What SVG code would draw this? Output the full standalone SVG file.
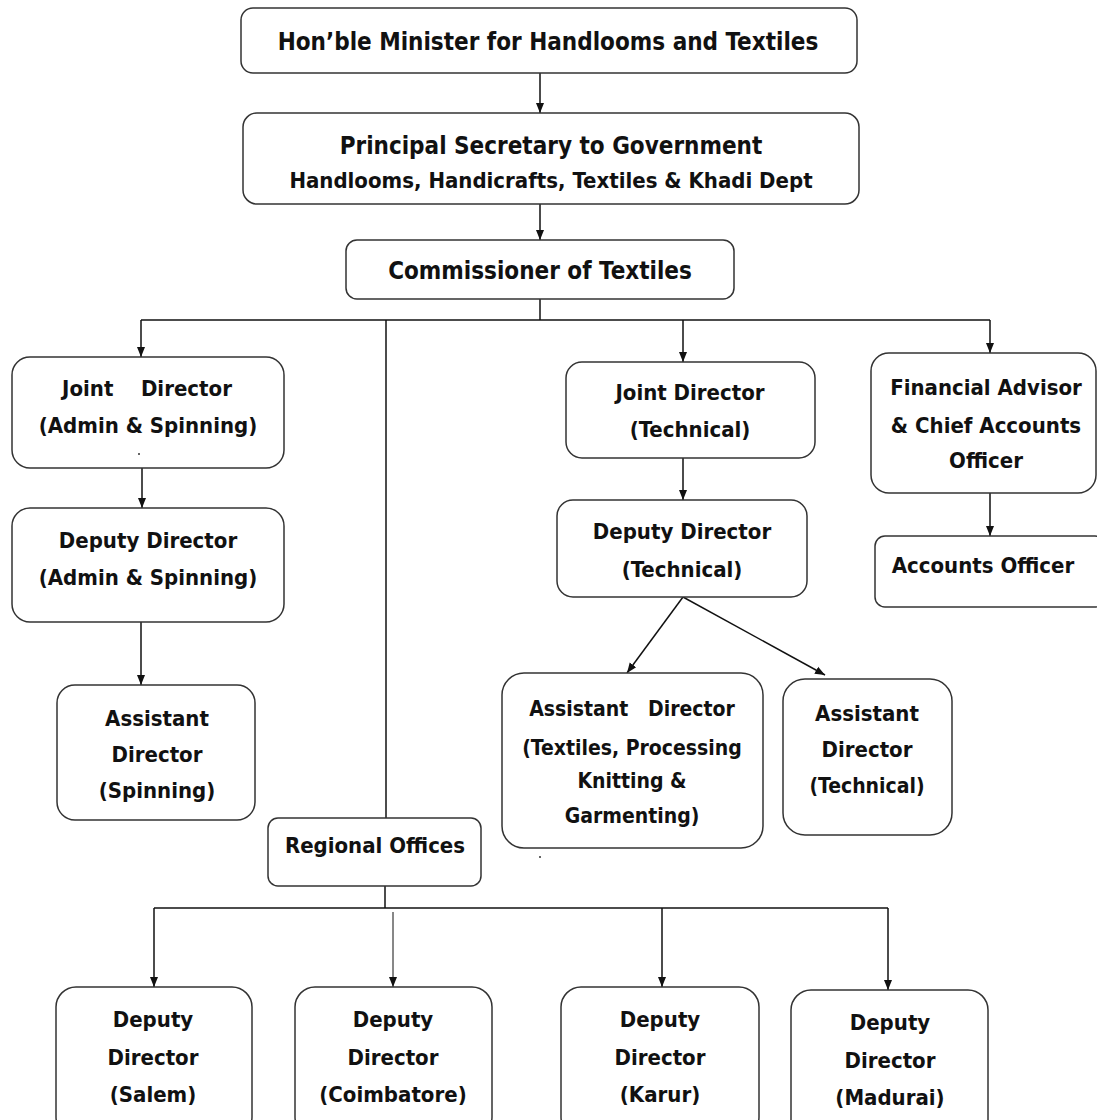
<svg xmlns="http://www.w3.org/2000/svg" width="1097" height="1120" viewBox="0 0 1097 1120">
<defs>
<marker id="arr" markerUnits="userSpaceOnUse" markerWidth="10" markerHeight="10" viewBox="0 0 10 10" refX="10" refY="5" orient="auto">
<path d="M0,1 L10,5 L0,9 Z" fill="#111"/>
</marker>
<style>
.box{fill:#fff;stroke:#333;stroke-width:1.5}
.sh{fill:#aaa;stroke:none}
.t{font-family:"DejaVu Sans Condensed","DejaVu Sans",sans-serif;font-weight:bold;fill:#111;text-anchor:middle;font-size:22px}
.big{font-size:24px}
.med{font-size:21px}
.c{stroke:#111;stroke-width:1.5;fill:none}
.ca{stroke:#111;stroke-width:1.5;fill:none;marker-end:url(#arr)}
</style>
</defs>
<rect width="1097" height="1120" fill="#fff"/>

<g id="connectors">
<line class="ca" x1="540" y1="73" x2="540" y2="113"/>
<line class="ca" x1="540" y1="204" x2="540" y2="240"/>
<line class="c" x1="540" y1="299" x2="540" y2="320"/>
<line class="c" x1="141" y1="320" x2="990" y2="320"/>
<line class="ca" x1="141" y1="320" x2="141" y2="357"/>
<line class="c" x1="386" y1="320" x2="386" y2="818"/>
<line class="ca" x1="683" y1="320" x2="683" y2="362"/>
<line class="ca" x1="990" y1="320" x2="990" y2="353"/>
<line class="ca" x1="142" y1="468" x2="142" y2="508"/>
<line class="ca" x1="141" y1="608" x2="141" y2="685"/>
<line class="ca" x1="683" y1="458" x2="683" y2="500"/>
<line class="ca" x1="683" y1="597" x2="627" y2="673"/>
<line class="ca" x1="683" y1="597" x2="825" y2="675"/>
<line class="ca" x1="990" y1="493" x2="990" y2="536"/>
<line class="c" x1="385" y1="886" x2="385" y2="908"/>
<line class="c" x1="154" y1="908" x2="888" y2="908"/>
<line class="ca" x1="154" y1="908" x2="154" y2="987"/>
<line class="ca" x1="393" y1="912" x2="393" y2="987" style="stroke-width:1"/>
<line class="ca" x1="662" y1="908" x2="662" y2="987"/>
<line class="ca" x1="888" y1="908" x2="888" y2="990"/>
</g>

<g id="minister">
<rect class="box" x="241" y="8" width="616" height="65" rx="12"/>
<text class="t big" x="548" y="50">Hon’ble Minister for Handlooms and Textiles</text>
</g>

<g id="secretary">
<rect class="box" x="243" y="113" width="616" height="91" rx="14"/>
<text class="t big" x="551" y="154">Principal Secretary to Government</text>
<text class="t" x="551" y="188">Handlooms, Handicrafts, Textiles &amp; Khadi Dept</text>
</g>

<g id="commissioner">
<rect class="box" x="346" y="240" width="388" height="59" rx="11"/>
<text class="t big" x="540" y="279">Commissioner of Textiles</text>
</g>

<g id="jd-admin">
<rect class="box" x="12" y="357" width="272" height="111" rx="18"/>
<text class="t" x="147" y="396">Joint&#160;&#160;&#160;&#160;Director</text>
<text class="t" x="148" y="433">(Admin &amp; Spinning)</text>
<circle cx="139" cy="454" r="1" fill="#333"/>
</g>

<g id="dd-admin">
<rect class="box" x="12" y="508" width="272" height="114" rx="18"/>
<text class="t" x="148" y="548">Deputy Director</text>
<text class="t" x="148" y="585">(Admin &amp; Spinning)</text>
</g>

<g id="ad-spinning">
<rect class="box" x="57" y="685" width="198" height="135" rx="18"/>
<text class="t" x="157" y="726">Assistant</text>
<text class="t" x="157" y="762">Director</text>
<text class="t" x="157" y="798">(Spinning)</text>
</g>

<g id="jd-tech">
<rect class="box" x="566" y="362" width="249" height="96" rx="16"/>
<text class="t" x="690" y="400">Joint Director</text>
<text class="t" x="690" y="437">(Technical)</text>
</g>

<g id="dd-tech">
<rect class="box" x="557" y="500" width="250" height="97" rx="16"/>
<text class="t" x="682" y="539">Deputy Director</text>
<text class="t" x="682" y="577">(Technical)</text>
</g>

<g id="ad-textiles">
<rect class="box" x="502" y="673" width="261" height="175" rx="22"/>
<text class="t med" x="632" y="716">Assistant&#160;&#160;&#160;Director</text>
<text class="t med" x="632" y="755">(Textiles, Processing</text>
<text class="t med" x="632" y="788">Knitting &amp;</text>
<text class="t med" x="632" y="823">Garmenting)</text>
<circle cx="540" cy="857" r="1" fill="#333"/>
</g>

<g id="ad-tech">
<rect class="box" x="783" y="679" width="169" height="156" rx="22"/>
<text class="t" x="867" y="721">Assistant</text>
<text class="t" x="867" y="757">Director</text>
<text class="t med" x="867" y="793">(Technical)</text>
</g>

<g id="fin-advisor">
<rect class="box" x="871" y="353" width="225" height="140" rx="18"/>
<text class="t" x="986" y="395">Financial Advisor</text>
<text class="t" x="986" y="433">&amp; Chief Accounts</text>
<text class="t" x="986" y="468">Officer</text>
</g>

<g id="accounts-officer">
<rect class="box" x="875" y="536" width="230" height="71" rx="10"/>
<text class="t" x="983" y="573">Accounts Officer</text>
</g>

<g id="regional">
<rect class="box" x="268" y="818" width="213" height="68" rx="10"/>
<text class="t" x="375" y="853">Regional Offices</text>
</g>

<g id="dd-salem">
<rect class="box" x="56" y="987" width="196" height="150" rx="20"/>
<text class="t" x="153" y="1027">Deputy</text>
<text class="t" x="153" y="1065">Director</text>
<text class="t" x="153" y="1102">(Salem)</text>
</g>

<g id="dd-coimbatore">
<rect class="box" x="295" y="987" width="197" height="150" rx="20"/>
<text class="t" x="393" y="1027">Deputy</text>
<text class="t" x="393" y="1065">Director</text>
<text class="t" x="393" y="1102">(Coimbatore)</text>
</g>

<g id="dd-karur">
<rect class="box" x="561" y="987" width="198" height="150" rx="20"/>
<text class="t" x="660" y="1027">Deputy</text>
<text class="t" x="660" y="1065">Director</text>
<text class="t" x="660" y="1102">(Karur)</text>
</g>

<g id="dd-madurai">
<rect class="box" x="791" y="990" width="197" height="150" rx="20"/>
<text class="t" x="890" y="1030">Deputy</text>
<text class="t" x="890" y="1068">Director</text>
<text class="t" x="890" y="1105">(Madurai)</text>
</g>
</svg>
